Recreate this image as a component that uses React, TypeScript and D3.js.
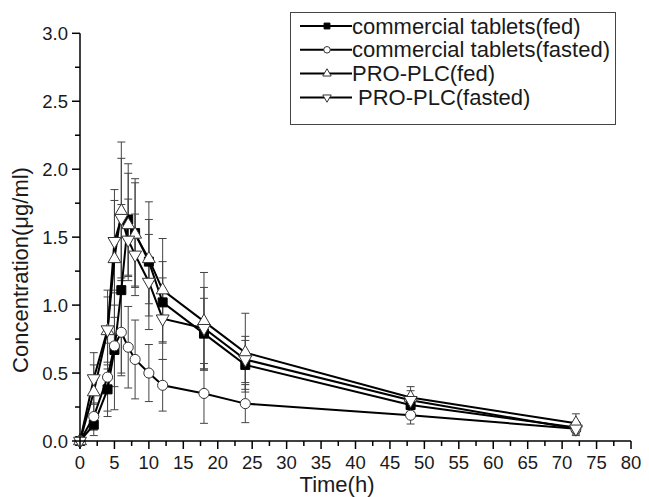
import React from "react";
import * as d3 from "d3";

// Sampling times (h)
const times = [0, 2, 4, 5, 6, 7, 8, 10, 12, 18, 24, 48, 72];

// Mean plasma concentration (µg/ml) per formulation
const ctFedMean = [0, 0.12, 0.38, 0.67, 1.11, 1.63, 1.53, 1.32, 1.02, 0.79, 0.56, 0.265, 0.1];
const ctFastedMean = [0, 0.18, 0.47, 0.7, 0.8, 0.69, 0.6, 0.5, 0.41, 0.35, 0.275, 0.19, 0.09];
const ploFedMean = [0, 0.36, 0.81, 1.34, 1.69, 1.59, 1.52, 1.34, 1.11, 0.88, 0.65, 0.32, 0.13];
const ploFastedMean = [0, 0.46, 0.82, 1.47, 1.64, 1.48, 1.37, 1.17, 0.9, 0.83, 0.6, 0.3, 0.09];

// Standard deviations
const ctFedSd = [0, 0.08, 0.2, 0.44, 0.63, 0.41, 0.4, 0.31, 0.3, 0.26, 0.18, 0.05, 0.04];
const ctFastedSd = [0, 0.1, 0.25, 0.3, 0.3, 0.3, 0.29, 0.21, 0.19, 0.22, 0.14, 0.065, 0.04];
const ploFedSd = [0, 0.2, 0.25, 0.43, 0.51, 0.38, 0.38, 0.42, 0.38, 0.36, 0.29, 0.08, 0.07];
const ploFastedSd = [0, 0.19, 0.29, 0.38, 0.44, 0.3, 0.3, 0.35, 0.3, 0.3, 0.17, 0.07, 0.05];

const seriesNames = [
  "commercial tablets(fed)",
  "commercial tablets(fasted)",
  "PRO-PLC(fed)",
  "PRO-PLC(fasted)",
];

const xTicks = d3.range(0, 81, 5);
const yTicks = [0, 0.5, 1.0, 1.5, 2.0, 2.5, 3.0];

type Marker = "square" | "circle" | "triangle" | "triangleDown";

const W = 649;
const H = 497;
const FONT = "'Liberation Sans', Arial, sans-serif";

export default function App() {
  const x = d3.scaleLinear().domain([0, 80]).range([80, 631]);
  const y = d3.scaleLinear().domain([0, 3]).range([441, 33.3]);

  const series: { name: string; mean: number[]; sd: number[]; marker: Marker; labelShift: number }[] = [
    { name: seriesNames[0], mean: ctFedMean, sd: ctFedSd, marker: "square", labelShift: 0 },
    { name: seriesNames[1], mean: ctFastedMean, sd: ctFastedSd, marker: "circle", labelShift: 0 },
    { name: seriesNames[2], mean: ploFedMean, sd: ploFedSd, marker: "triangle", labelShift: 0 },
    { name: seriesNames[3], mean: ploFastedMean, sd: ploFastedSd, marker: "triangleDown", labelShift: 6 },
  ];

  const line = d3
    .line<number>()
    .x((_, i) => x(times[i]))
    .y((d) => y(d));

  const symbolPath = (m: Marker, scale = 1) => {
    if (m === "square") return d3.symbol(d3.symbolSquare, 81 * scale * scale)()!;
    if (m === "circle") return d3.symbol(d3.symbolCircle, 80 * scale * scale)()!;
    return d3.symbol(d3.symbolTriangle, 72 * scale * scale)()!;
  };

  const drawMarker = (m: Marker, cx: number, cy: number, key: string, scale = 1) => (
    <path
      key={key}
      d={symbolPath(m, scale)}
      transform={`translate(${cx},${cy})${m === "triangleDown" ? " rotate(180)" : ""}`}
      fill={m === "square" ? "#000" : "#fff"}
      stroke={m === "square" ? "#000" : "#333"}
      strokeWidth={1}
    />
  );

  const minorX = d3.range(0, 80.01, 2.5).filter((v) => v % 5 !== 0);
  const minorY = d3.range(0.25, 3, 0.5);
  const cap = 4;

  return (
    <svg width={W} height={H} style={{ position: "absolute", left: 0, top: 0, background: "#fff" }} fontFamily={FONT}>
      <rect width={W} height={H} fill="#fff" />

      {/* error bars */}
      <g stroke="#444" strokeWidth={1} fill="none">
        {series.map((s, si) =>
          times.map((t, i) => {
            if (s.sd[i] === 0) return null;
            const cx = x(t);
            const hi = y(s.mean[i] + s.sd[i]);
            const lo = y(Math.max(0, s.mean[i] - s.sd[i]));
            return (
              <g key={`e${si}-${i}`}>
                <line x1={cx} x2={cx} y1={hi} y2={lo} />
                <line x1={cx - cap} x2={cx + cap} y1={hi} y2={hi} />
                <line x1={cx - cap} x2={cx + cap} y1={lo} y2={lo} />
              </g>
            );
          })
        )}
      </g>

      {/* series lines */}
      {series.map((s, si) => (
        <path key={`l${si}`} d={line(s.mean)!} fill="none" stroke="#000" strokeWidth={2} />
      ))}

      {/* markers */}
      {series.map((s, si) =>
        times.map((t, i) => drawMarker(s.marker, x(t), y(s.mean[i]), `m${si}-${i}`))
      )}

      {/* axes */}
      <g stroke="#000" strokeWidth={1.5}>
        <line x1={x(0)} x2={x(80)} y1={y(0)} y2={y(0)} />
        <line x1={x(0)} x2={x(0)} y1={y(0)} y2={y(3)} />
        {xTicks.map((v) => (
          <line key={`xt${v}`} x1={x(v)} x2={x(v)} y1={y(0)} y2={y(0) + 8} />
        ))}
        {minorX.map((v) => (
          <line key={`xm${v}`} x1={x(v)} x2={x(v)} y1={y(0)} y2={y(0) + 5} />
        ))}
        {yTicks.map((v) => (
          <line key={`yt${v}`} x1={x(0) - 8} x2={x(0)} y1={y(v)} y2={y(v)} />
        ))}
        {minorY.map((v) => (
          <line key={`ym${v}`} x1={x(0) - 5} x2={x(0)} y1={y(v)} y2={y(v)} />
        ))}
      </g>

      <g fill="#1a1a1a" fontSize={18.5}>
        {xTicks.map((v) => (
          <text key={`xl${v}`} x={x(v)} y={y(0) + 28} textAnchor="middle">
            {v}
          </text>
        ))}
        {yTicks.map((v) => (
          <text key={`yl${v}`} x={x(0) - 12} y={y(v) + 6.5} textAnchor="end">
            {v.toFixed(1)}
          </text>
        ))}
      </g>

      <text x={337} y={492} textAnchor="middle" fontSize={22} fill="#1a1a1a">
        Time(h)
      </text>
      <text
        transform={`translate(28,${270}) rotate(-90)`}
        textAnchor="middle"
        fontSize={22}
        fill="#1a1a1a"
      >
        Concentration(μg/ml)
      </text>

      {/* legend */}
      <rect x={290.5} y={12.5} width={325} height={112} fill="#fff" stroke="#444" strokeWidth={1} />
      {series.map((s, i) => {
        const cy = 26 + i * 23.8;
        return (
          <g key={`lg${i}`}>
            <line x1={300} x2={352} y1={cy} y2={cy} stroke="#000" strokeWidth={2} />
            {drawMarker(s.marker, 327, cy, `lm${i}`, 0.65)}
            <text x={352 + s.labelShift} y={cy + 7.5} fontSize={22} fill="#1a1a1a">
              {s.name}
            </text>
          </g>
        );
      })}
    </svg>
  );
}
